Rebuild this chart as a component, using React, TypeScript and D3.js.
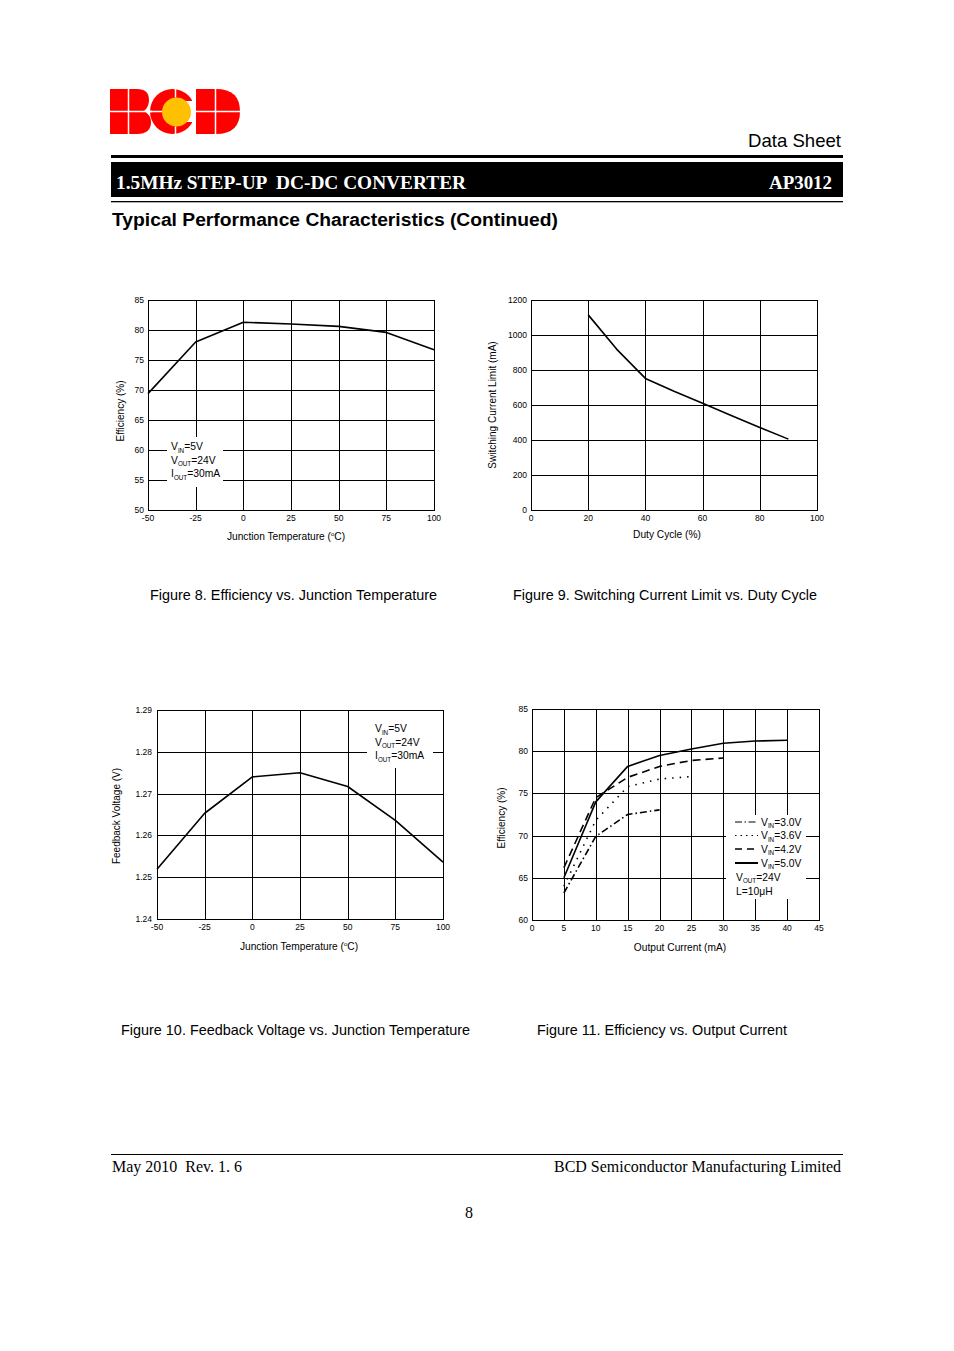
import React from 'react';
import * as d3 from 'd3';

// ---------- data ----------
const tempTicks = [-50, -25, 0, 25, 50, 75, 100];

const fig8Temp = [-50, -25, 0, 25, 50, 75, 100];
const fig8Efficiency = [69.4, 78.0, 81.3, 81.0, 80.6, 79.6, 76.7];
const fig8EffTicks = [50, 55, 60, 65, 70, 75, 80, 85];

const fig9Duty = [20, 30, 40, 50, 60, 70, 80, 90];
const fig9Limit = [1115, 918, 752, 678, 610, 540, 472, 405];
const fig9DutyTicks = [0, 20, 40, 60, 80, 100];
const fig9LimitTicks = [0, 200, 400, 600, 800, 1000, 1200];

const fig10Temp = [-50, -25, 0, 25, 50, 75, 100];
const fig10Vfb = [1.2519, 1.2653, 1.274, 1.275, 1.2717, 1.2636, 1.2536];
const fig10VTicks = [1.24, 1.25, 1.26, 1.27, 1.28, 1.29];

const fig11Current30 = [5, 10, 15, 20];
const fig11Eff30 = [63.2, 69.9, 72.5, 73.05];
const fig11Current36 = [5, 10, 15, 20, 25];
const fig11Eff36 = [64.0, 71.8, 75.8, 76.7, 77.0];
const fig11Current42 = [5, 10, 15, 20, 25, 30];
const fig11Eff42 = [66.2, 74.5, 76.9, 78.2, 78.9, 79.2];
const fig11Current50 = [5, 10, 15, 20, 25, 30, 35, 40];
const fig11Eff50 = [65.0, 74.0, 78.2, 79.5, 80.25, 80.95, 81.2, 81.3];
const fig11Labels = ['3.0V', '3.6V', '4.2V', '5.0V'];
const fig11CurrentTicks = [0, 5, 10, 15, 20, 25, 30, 35, 40, 45];
const fig11EffTicks = [60, 65, 70, 75, 80, 85];

const SANS = "'Liberation Sans', Arial, sans-serif";
const SERIF = "'Liberation Serif', 'Times New Roman', serif";

type Series = { xs: number[]; ys: number[]; dash?: string };
type Box = { x: number; y: number; w: number; h: number };

function Panel(props: {
  x0: number; x1: number; y0: number; y1: number;
  xDomain: [number, number]; yDomain: [number, number];
  xTicks: number[]; yTicks: number[];
  yFmt?: (v: number) => string;
  series: Series[]; boxes: Box[];
  xLabelDy?: number; yLabelDx?: number;
}) {
  const { x0, x1, y0, y1, xDomain, yDomain, xTicks, yTicks, series, boxes } = props;
  const yFmt = props.yFmt || ((v: number) => String(v));
  const xs = d3.scaleLinear().domain(xDomain).range([x0, x1]);
  const ys = d3.scaleLinear().domain(yDomain).range([y1, y0]);
  const line = d3.line<[number, number]>().x(d => xs(d[0])).y(d => ys(d[1]));
  const px = (v: number) => Math.round(v) + 0.5;
  const xLabelDy = props.xLabelDy ?? 11;
  const yLabelDx = props.yLabelDx ?? 4;
  return (
    <g>
      {xTicks.map((t, i) => (
        <line key={'gx' + i} x1={px(xs(t))} x2={px(xs(t))} y1={y0} y2={y1} stroke="#000" strokeWidth={1} />
      ))}
      {yTicks.map((t, i) => (
        <line key={'gy' + i} x1={x0} x2={x1} y1={px(ys(t))} y2={px(ys(t))} stroke="#000" strokeWidth={1} />
      ))}
      {boxes.map((b, i) => (
        <rect key={'b' + i} x={b.x} y={b.y} width={b.w} height={b.h} fill="#fff" />
      ))}
      <rect x={px(x0)} y={px(y0)} width={Math.round(x1 - x0)} height={Math.round(y1 - y0)} fill="none" stroke="#000" strokeWidth={1} />
      {series.map((s, i) => (
        <path key={'s' + i} d={line(s.xs.map((x, j) => [x, s.ys[j]] as [number, number])) || ''}
          fill="none" stroke="#000" strokeWidth={1.6} strokeDasharray={s.dash} strokeLinejoin="round" />
      ))}
      {xTicks.map((t, i) => (
        <text key={'lx' + i} x={xs(t)} y={y1 + xLabelDy} fontSize={8.5} textAnchor="middle" fontFamily={SANS}>{t}</text>
      ))}
      {yTicks.map((t, i) => (
        <text key={'ly' + i} x={x0 - yLabelDx} y={ys(t) + 3} fontSize={8.5} textAnchor="end" fontFamily={SANS}>{yFmt(t)}</text>
      ))}
    </g>
  );
}

function SubText({ x, y, main, sub, rest, size = 10.3 }: { x: number; y: number; main: string; sub: string; rest: string; size?: number }) {
  return (
    <text x={x} y={y} fontSize={size} fontFamily={SANS}>
      {main}
      <tspan fontSize={6.3} dy={2.5}>{sub}</tspan>
      <tspan dy={-2.5}>{rest}</tspan>
    </text>
  );
}

function TempTitle({ x, y }: { x: number; y: number }) {
  return (
    <text x={x} y={y} fontSize={10.2} textAnchor="middle" fontFamily={SANS}>
      Junction Temperature (<tspan fontSize={6} dy={-4}>o</tspan><tspan dy={4}>C)</tspan>
    </text>
  );
}

function FitText({ x, y, len, size, anchor, font, weight, fill, children }: any) {
  return (
    <text x={x} y={y} fontSize={size} textAnchor={anchor || 'start'} fontFamily={font} fontWeight={weight}
      fill={fill || '#000'} textLength={len} lengthAdjust="spacingAndGlyphs" style={{ whiteSpace: 'pre' }}>
      {children}
    </text>
  );
}

function Logo() {
  const red = '#ff0000';
  const midY = 111.5;
  return (
    <g>
      {/* B */}
      <path d="M110,89 H137 Q149,89 149,100 Q149,107 144,111 Q151,115 151,122 Q151,134 137,134 H110 Z" fill={red} />
      {/* C */}
      <defs>
        <clipPath id="cclip"><rect x={148} y={86} width={44} height={52} /></clipPath>
      </defs>
      <circle cx={172.5} cy={midY} r={22.5} fill={red} clipPath="url(#cclip)" />
      <rect x={184} y={101} width={12} height={21} fill="#fff" />
      <circle cx={176.5} cy={112} r={14.5} fill="#ffc000" />
      {/* D */}
      <path d="M196,89 H216 Q240,89 240,111.5 Q240,134 216,134 H196 Z" fill={red} />
      {/* white separators */}
      <line x1={128.5} x2={128.5} y1={88} y2={135} stroke="#fff" strokeWidth={1.5} />
      <line x1={215.5} x2={215.5} y1={88} y2={135} stroke="#fff" strokeWidth={1.5} />
      <line x1={175.5} x2={175.5} y1={88} y2={97.5} stroke="#fff" strokeWidth={1.5} />
      <line x1={175.5} x2={175.5} y1={126.5} y2={135} stroke="#fff" strokeWidth={1.5} />
      <line x1={109} x2={152} y1={midY} y2={midY} stroke="#fff" strokeWidth={1.5} />
      <line x1={149} x2={162} y1={midY} y2={midY} stroke="#fff" strokeWidth={1.5} />
      <line x1={195} x2={241} y1={midY} y2={midY} stroke="#fff" strokeWidth={1.5} />
    </g>
  );
}

export default function App() {
  const legend11 = [
    { label: fig11Labels[0], dash: '7,2.5,1.5,2.5', width: 1.2 },
    { label: fig11Labels[1], dash: '1.5,4', width: 1.2 },
    { label: fig11Labels[2], dash: '7,5', width: 1.4 },
    { label: fig11Labels[3], dash: undefined, width: 2 },
  ];
  const legendRowY = [822, 835.5, 849, 863];
  return (
    <svg width={954} height={1351} style={{ position: 'absolute', left: 0, top: 0, background: '#fff' }}>
      <rect x={0} y={0} width={954} height={1351} fill="#fff" />
      <Logo />
      <FitText x={748} y={147} len={93} size={18.5} font={SANS}>Data Sheet</FitText>
      <rect x={111} y={155} width={732} height={3} fill="#000" />
      <rect x={111} y={162} width={732} height={35} fill="#000" />
      <FitText x={116} y={189} len={350} size={19} weight="bold" fill="#fff" font={SERIF}>1.5MHz STEP-UP  DC-DC CONVERTER</FitText>
      <FitText x={769} y={189} len={63} size={19} weight="bold" fill="#fff" font={SERIF}>AP3012</FitText>
      <rect x={111} y={201} width={732} height={1.3} fill="#000" />
      <FitText x={112} y={226} len={446} size={19.2} weight="bold" font={SANS}>Typical Performance Characteristics (Continued)</FitText>

      {/* Figure 8 */}
      <Panel x0={148} x1={434} y0={300} y1={510} xDomain={[-50, 100]} yDomain={[50, 85]}
        xTicks={tempTicks} yTicks={fig8EffTicks}
        series={[{ xs: fig8Temp, ys: fig8Efficiency }]}
        boxes={[{ x: 167, y: 437, w: 56, h: 50 }]} />
      <SubText x={171} y={450} main="V" sub="IN" rest="=5V" />
      <SubText x={171} y={463.5} main="V" sub="OUT" rest="=24V" />
      <SubText x={171} y={477} main="I" sub="OUT" rest="=30mA" />
      <TempTitle x={286} y={540} />
      <text transform="translate(124,411) rotate(-90)" fontSize={10} textAnchor="middle" fontFamily={SANS}>Efficiency (%)</text>
      <FitText x={150} y={600} len={287} size={14.3} font={SANS}>Figure 8. Efficiency vs. Junction Temperature</FitText>

      {/* Figure 9 */}
      <Panel x0={531} x1={817} y0={300} y1={510} xDomain={[0, 100]} yDomain={[0, 1200]}
        xTicks={fig9DutyTicks} yTicks={fig9LimitTicks}
        series={[{ xs: fig9Duty, ys: fig9Limit }]} boxes={[]} />
      <text x={667} y={538} fontSize={10.2} textAnchor="middle" fontFamily={SANS}>Duty Cycle (%)</text>
      <text transform="translate(496,405) rotate(-90)" fontSize={10} textAnchor="middle" fontFamily={SANS}>Switching Current Limit (mA)</text>
      <FitText x={513} y={600} len={304} size={14.3} font={SANS}>Figure 9. Switching Current Limit vs. Duty Cycle</FitText>

      {/* Figure 10 */}
      <Panel x0={157} x1={443} y0={710} y1={919} xDomain={[-50, 100]} yDomain={[1.24, 1.29]}
        xTicks={tempTicks} yTicks={fig10VTicks} yFmt={v => v.toFixed(2)} yLabelDx={5}
        series={[{ xs: fig10Temp, ys: fig10Vfb }]}
        boxes={[{ x: 367, y: 711, w: 66, h: 57 }]} />
      <SubText x={375} y={732} main="V" sub="IN" rest="=5V" />
      <SubText x={375} y={745.5} main="V" sub="OUT" rest="=24V" />
      <SubText x={375} y={759} main="I" sub="OUT" rest="=30mA" />
      <TempTitle x={299} y={950} />
      <text transform="translate(120,816) rotate(-90)" fontSize={10} textAnchor="middle" fontFamily={SANS}>Feedback Voltage (V)</text>
      <FitText x={121} y={1035} len={349} size={14.3} font={SANS}>Figure 10. Feedback Voltage vs. Junction Temperature</FitText>

      {/* Figure 11 */}
      <Panel x0={532} x1={819} y0={709} y1={920} xDomain={[0, 45]} yDomain={[60, 85]}
        xTicks={fig11CurrentTicks} yTicks={fig11EffTicks}
        series={[
          { xs: fig11Current30, ys: fig11Eff30, dash: '7,3,1.5,3' },
          { xs: fig11Current36, ys: fig11Eff36, dash: '1.5,6' },
          { xs: fig11Current42, ys: fig11Eff42, dash: '8,5' },
          { xs: fig11Current50, ys: fig11Eff50 },
        ]}
        boxes={[{ x: 726, y: 815, w: 80, h: 84 }]} />
      {legend11.map((l, i) => (
        <g key={'lg' + i}>
          <line x1={735} x2={758} y1={legendRowY[i]} y2={legendRowY[i]} stroke="#000" strokeWidth={l.width} strokeDasharray={l.dash} />
          <SubText x={761} y={legendRowY[i] + 3.5} main="V" sub="IN" rest={'=' + l.label} />
        </g>
      ))}
      <SubText x={736} y={880.5} main="V" sub="OUT" rest="=24V" />
      <text x={736} y={894.5} fontSize={10.3} fontFamily={SANS}>L=10μH</text>
      <text x={680} y={951} fontSize={10.2} textAnchor="middle" fontFamily={SANS}>Output Current (mA)</text>
      <text transform="translate(505,818) rotate(-90)" fontSize={10} textAnchor="middle" fontFamily={SANS}>Efficiency (%)</text>
      <FitText x={537} y={1035} len={250} size={14.3} font={SANS}>Figure 11. Efficiency vs. Output Current</FitText>

      {/* Footer */}
      <rect x={111} y={1154} width={732} height={1} fill="#000" />
      <FitText x={112} y={1172} len={130} size={16} font={SERIF}>May 2010  Rev. 1. 6</FitText>
      <FitText x={554} y={1172} len={287} size={16} font={SERIF}>BCD Semiconductor Manufacturing Limited</FitText>
      <text x={469} y={1218} fontSize={16} textAnchor="middle" fontFamily={SERIF}>8</text>
    </svg>
  );
}
